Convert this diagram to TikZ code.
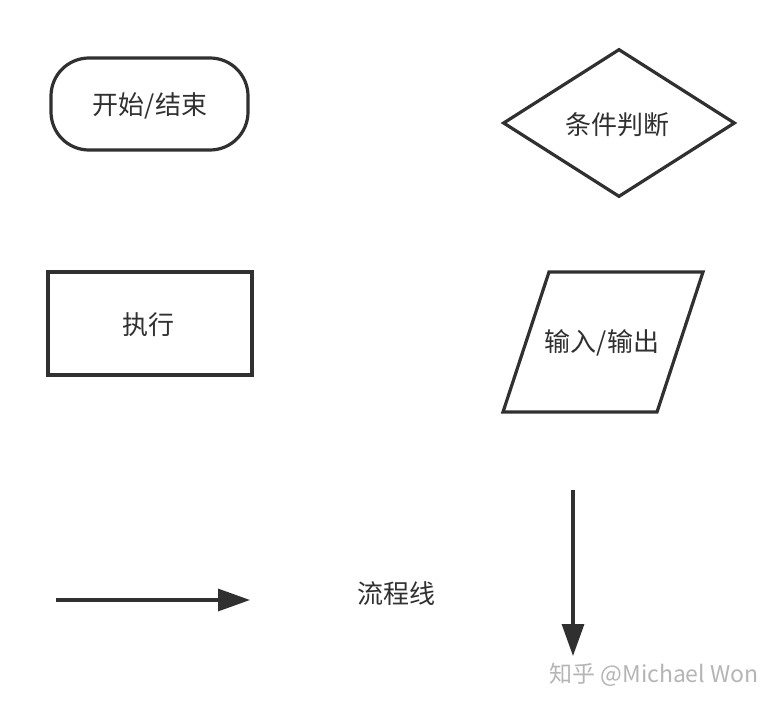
\documentclass[tikz,border=0pt]{standalone}
\usepackage{fontspec}
\setmainfont{Noto Sans CJK SC}
\usetikzlibrary{shapes.geometric,arrows.meta}
\definecolor{ink}{HTML}{303030}
\definecolor{wm}{HTML}{B5B5B5}
\begin{document}
\begin{tikzpicture}[x=1pt,y=-1pt,
  shapeline/.style={draw=ink,line width=3.2pt,fill=white},
  lbl/.style={font=\fontsize{26}{30}\selectfont,text=ink,inner sep=0pt},
  flowarrow/.style={draw=ink,line width=3.2pt,-{Triangle[length=32pt,width=22pt]}}]
\useasboundingbox[fill=white] (0,0) rectangle (783,706);
% terminator
\node[shapeline,rounded corners=38pt,minimum width=197pt,minimum height=92pt,inner sep=0pt] (term) at (149.5,104) {};
\node[lbl] (termt) at (150,106) {开始/结束};
% decision
\node[shapeline,diamond,minimum width=232pt,minimum height=148pt,inner sep=0pt,line join=miter] (dec) at (619,123) {};
\node[lbl] (dect) at (617,125) {条件判断};
% process
\node[shapeline,minimum width=204pt,minimum height=103pt,inner sep=0pt] (proc) at (150,323.5) {};
\node[lbl] (proct) at (148,325) {执行};
% input/output
\draw[shapeline,line join=miter] (549,272) -- (703,272) -- (657,412) -- (503,412) -- cycle;
\node[lbl] (iot) at (602,343) {输入/输出};
% flow lines
\coordinate (h1) at (56,600);
\coordinate (h2) at (250,600);
\draw[flowarrow] (h1) -- (h2);
\node[lbl] (flowt) at (396,594) {流程线};
\coordinate (v1) at (573,490);
\coordinate (v2) at (573,656);
\draw[flowarrow] (v1) -- (v2);
% watermark
\node[font=\fontsize{23}{27}\selectfont,text=wm,inner sep=0pt] (wmark) at (654,675) {知乎 @Michael Won};
\end{tikzpicture}
\end{document}
